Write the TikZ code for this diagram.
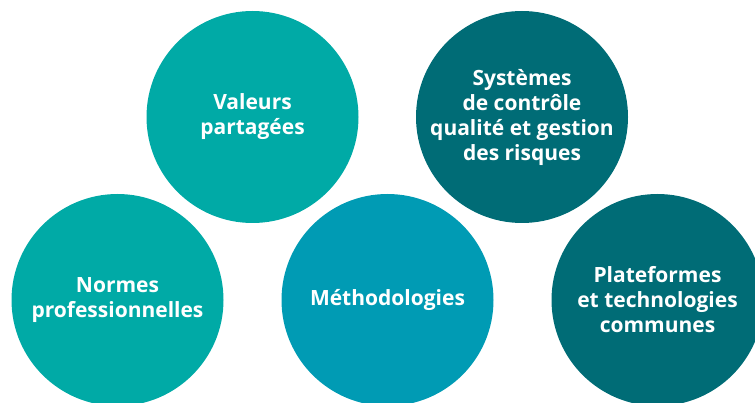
\documentclass[tikz,border=0pt]{standalone}
\usepackage{fontspec}
\setmainfont{Open Sans}
\definecolor{tealA}{RGB}{0,170,166}
\definecolor{tealB}{RGB}{0,155,180}
\definecolor{tealC}{RGB}{0,108,118}
\begin{document}
\begin{tikzpicture}[x=1pt,y=-1pt,
  bubble/.style={circle,inner sep=0pt,minimum size=212pt,text=white,align=center,
    font=\fontsize{21}{25}\selectfont\bfseries}]
\useasboundingbox (0,0) rectangle (755,403);
\node[bubble,fill=tealA] (val) at (252.5,117) {Valeurs\\partagées};
\node[bubble,fill=tealC] (sys) at (522,117) {Systèmes\\de contrôle\\qualité et gestion\\des risques};
\node[bubble,fill=tealA] (nor) at (117.5,300) {Normes\\professionnelles};
\node[bubble,fill=tealB] (met) at (387.5,300) {Méthodologies};
\node[bubble,fill=tealC] (pla) at (657.5,300) {Plateformes\\et technologies\\communes};
\end{tikzpicture}
\end{document}
